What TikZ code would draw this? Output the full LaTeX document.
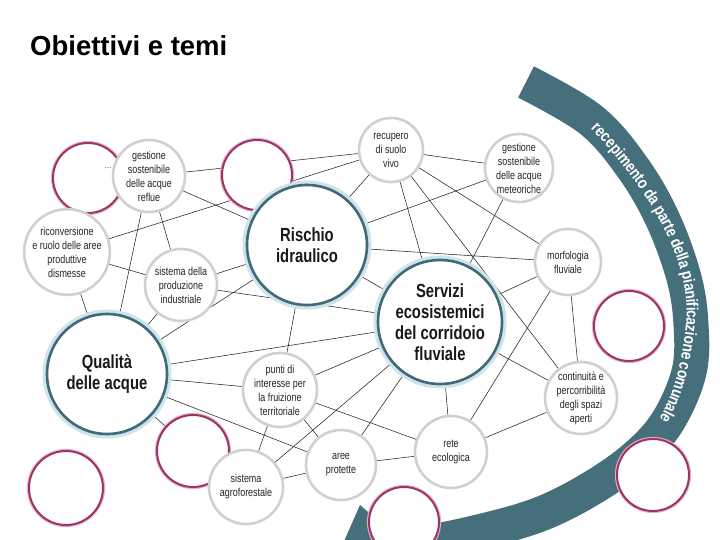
\documentclass[tikz,border=0pt]{standalone}
\usepackage{fontspec}
\setmainfont{Liberation Sans}
\newfontfamily\condfont[FakeStretch=0.78]{Liberation Sans}
\newfontfamily\bandfont[FakeStretch=0.82]{Liberation Sans}
\usetikzlibrary{decorations.text}
\pgfdeclarelayer{paper}
\pgfdeclarelayer{band}
\pgfdeclarelayer{lines}
\pgfsetlayers{paper,band,lines,main}
\definecolor{tealring}{RGB}{64,106,119}
\definecolor{bandc}{RGB}{70,111,124}
\definecolor{halo}{RGB}{206,227,234}
\definecolor{ringc}{RGB}{208,208,208}
\definecolor{pinkc}{RGB}{158,52,102}
\definecolor{pinkh}{RGB}{224,176,199}
\begin{document}
\begin{tikzpicture}[x=1pt,y=-1pt,
  small/.style={circle, fill=white, draw=ringc, line width=2.6pt, inner sep=0pt, align=center,
     font=\condfont\fontsize{11.5}{14}\selectfont, text=black!85},
  big/.style={circle, fill=white, draw=tealring, line width=2.6pt, inner sep=0pt, align=center,
     preaction={draw=halo, line width=9pt},
     font=\condfont\bfseries\fontsize{19}{21}\selectfont, text=black!90},
  pinkring/.style={circle, fill=white, draw=pinkc, line width=2pt, inner sep=0pt,
     preaction={draw=pinkh, line width=4.2pt}},
  conn/.style={line width=0.55pt, black!85}]
\useasboundingbox (0,0) rectangle (720,540);
\clip (0,0) rectangle (720,540);
\begin{pgfonlayer}{paper}
\fill[white] (0,0) rectangle (720,540);
\end{pgfonlayer}

% title
\node[anchor=base west, inner sep=0pt, font=\bfseries\fontsize{27.5}{27.5}\selectfont] (title) at (30,56) {Obiettivi e temi};

% pink circles
\node[pinkring, minimum size=70pt] (p1) at (88,178) {};
\node[pinkring, minimum size=70pt] (p2) at (257,175) {};
\node[pinkring, minimum size=70pt] (p3) at (629,326) {};
\node[pinkring, minimum size=72pt] (p4) at (653,475) {};
\node[pinkring, minimum size=70pt] (p5) at (404,522) {};
\node[pinkring, minimum size=72pt] (p6) at (193,451) {};
\node[pinkring, minimum size=74pt] (p7) at (66,488) {};

% small theme circles
\node[small, minimum size=72pt] (gr) at (149,176) {gestione\\sostenibile\\delle acque\\reflue};
\node[small, minimum size=64pt] (rs) at (391,150) {recupero\\di suolo\\vivo};
\node[small, minimum size=66pt] (gm) at (519,168) {gestione\\sostenibile\\delle acque\\meteoriche};
\node[small, minimum size=66pt] (mf) at (568,262) {morfologia\\fluviale};
\node[small, minimum size=72pt] (rc) at (67,252) {riconversione\\e ruolo delle aree\\produttive\\dismesse};
\node[small, minimum size=72pt] (sp) at (181,285) {sistema della\\produzione\\industriale};
\node[small, minimum size=74pt] (pi) at (280,390) {punti di\\interesse per\\la fruizione\\territoriale};
\node[small, minimum size=70pt] (ap) at (341,465) {aree\\protette};
\node[small, minimum size=72pt] (re) at (451,452) {rete\\ecologica};
\node[small, minimum size=74pt] (sa) at (246,487) {sistema\\agroforestale};
\node[small, minimum size=72pt] (cp) at (581,398) {continuità e\\percorribilità\\degli spazi\\aperti};

% main themes
\node[big, minimum size=120pt] (RI) at (307,245) {Rischio\\idraulico};
\node[big, minimum size=124pt] (SE) at (440,322) {Servizi\\ecosistemici\\del corridoio\\fluviale};
\node[big, minimum size=120pt] (QA) at (107,374) {Qualità\\delle acque};

\node[font=\fontsize{6}{6}\selectfont, inner sep=0pt] (dots) at (108,168) {....};

% connectors
\begin{pgfonlayer}{lines}
\foreach \a/\b in {gr/rs, gr/RI, gr/QA, gr/sp,
  rc/rs, rc/sp, rc/QA,
  sp/RI, sp/SE, sp/QA,
  QA/RI, QA/SE, QA/pi, QA/ap, QA/p6,
  RI/rs, RI/gm, RI/mf, RI/SE, RI/pi,
  rs/gm, rs/mf, rs/cp, rs/SE,
  gm/SE, mf/cp, mf/re, mf/SE,
  SE/cp, SE/re, SE/ap, SE/pi, SE/sa,
  pi/sa, pi/ap, pi/re, ap/re, ap/sa, re/cp}
  \draw[conn] (\a) -- (\b);
\end{pgfonlayer}

% band
\begin{pgfonlayer}{band}
\draw[bandc, line width=35pt] plot[smooth, tension=0.6] coordinates {(526,82) (591,120) (633,168) (663,220) (684,278) (691,325) (689,372) (668,421) (637,456) (592,488) (538,515) (470,534) (400,548)};
\fill[bandc] (360,505) -- (318,600) -- (470,600) -- cycle;
\path[decorate, decoration={text along path,
   text={|\bandfont\bfseries\fontsize{16.5}{16.5}\selectfont|recepimento da parte della pianificazione comunale},
   text color=white, text align=center, raise=-6.5pt}]
   (594,123) .. controls (650,180) and (702,260) .. (692,330) .. controls (688,365) and (680,398) .. (664,424);
\end{pgfonlayer}
\end{tikzpicture}
\end{document}
